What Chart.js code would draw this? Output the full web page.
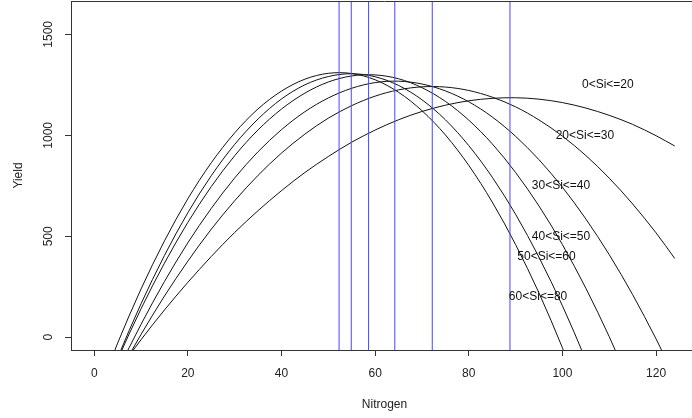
<!DOCTYPE html>
<html><head><meta charset="utf-8">
<script src="https://cdn.jsdelivr.net/npm/chart.js@4/dist/chart.umd.min.js"></script>
<style>html,body{margin:0;padding:0;overflow:hidden;background:#fff}#wrap{width:700px;height:418px;position:relative}</style>
</head><body><div id="wrap"><canvas id="c"></canvas></div>
<script>
const nitrogen = [0,5,10,15,20,25,30,35,40,45,50,55,60,65,70,75,80,85,90,95,100,105,110,115,120,124];
const yieldSi0_20  = [-336,-169,-12,135,272,400,519,627,726,816,895,966,1026,1077,1118,1149,1171,1183,1186,1179,1162,1135,1099,1054,998,947];
const yieldSi20_30 = [-412,-191,14,204,377,535,676,802,912,1006,1085,1147,1194,1225,1240,1239,1222,1189,1141,1076,996,900,788,660,517,390];
const yieldSi30_40 = [-421,-168,64,276,468,638,789,919,1028,1117,1185,1233,1261,1268,1254,1220,1166,1091,995,879,743,586,409,211,-8,-197];
const yieldSi40_50 = [-385,-110,141,367,569,746,899,1027,1130,1209,1264,1294,1299,1280,1236,1168,1075,958,816,650,459,243,3,-261,null,null];
const yieldSi50_60 = [-398,-102,166,405,617,800,955,1081,1180,1250,1291,1305,1290,1247,1176,1077,949,793,609,396,156,-113,-410,null,null,null];
const yieldSi60_80 = [-327,-29,239,477,686,864,1012,1131,1219,1278,1307,1306,1275,1213,1122,1002,851,670,459,219,-52,-352,null,null,null,null];
const optimumN = [52.3,54.9,58.6,64.2,72.2,88.8];
const labelText = ['0<Si<=20','20<Si<=30','30<Si<=40','40<Si<=50','50<Si<=60','60<Si<=80'];
const labelN = [109.7,104.8,99.7,99.7,96.6,94.8];
const labelYield = [1250,1000,750,500,400,200];
const xTickValues = [0,20,40,60,80,100,120];
const yTickValues = [0,500,1000,1500];
const vlineYield = [-200,1800];

const FONT = '"Liberation Sans", Arial, sans-serif';
const seriesList = [yieldSi0_20,yieldSi20_30,yieldSi30_40,yieldSi40_50,yieldSi50_60,yieldSi60_80];

const datasets = [];
optimumN.forEach(n => {
  datasets.push({data: vlineYield.map(v => ({x:n, y:v})), borderColor:'rgb(70,70,255)', borderWidth:1, tension:0, pointRadius:0});
});
seriesList.forEach((vals, k) => {
  const pts = [];
  nitrogen.forEach((n,i) => { if (vals[i] !== null) pts.push({x:n, y:vals[i]}); });
  datasets.push({label: labelText[k], data: pts, borderColor:'#111', borderWidth:1, tension:0.33, pointRadius:0});
});

const extras = {
  id:'extras',
  afterDatasetsDraw(chart){
    const {ctx, chartArea:a, scales:{x,y}} = chart;
    ctx.save();
    ctx.beginPath(); ctx.rect(a.left, a.top, a.right-a.left, a.bottom-a.top); ctx.clip();
    ctx.fillStyle = '#111';
    ctx.font = '12px ' + FONT;
    ctx.textAlign = 'center'; ctx.textBaseline = 'middle';
    labelText.forEach((t,i) => ctx.fillText(t, x.getPixelForValue(labelN[i]), y.getPixelForValue(labelYield[i])));
    ctx.restore();
    ctx.save();
    ctx.strokeStyle = '#333'; ctx.lineWidth = 1;
    ctx.beginPath(); ctx.moveTo(a.left, a.top + 0.5); ctx.lineTo(a.right, a.top + 0.5); ctx.stroke();
    ctx.restore();
  }
};

new Chart(document.getElementById('c'), {
  type:'line',
  data:{datasets},
  plugins:[extras],
  options:{
    responsive:true, maintainAspectRatio:false, devicePixelRatio:1, animation:false,
    layout:{padding:{top:1,right:2,left:0,bottom:0}},
    plugins:{legend:{display:false}, tooltip:{enabled:false}},
    scales:{
      x:{type:'linear', min:-4.96, max:128.96,
        afterBuildTicks: s => { s.ticks = xTickValues.map(v => ({value:v})); },
        afterFit: s => { s.height = 68; s.paddingLeft = 0; s.paddingRight = 0; },
        grid:{drawOnChartArea:false, drawTicks:true, tickLength:6, color:'#333'},
        border:{display:true, color:'#333'},
        ticks:{padding:10, color:'#222', font:{family:FONT, size:12}, maxRotation:0, minRotation:0, autoSkip:false, callback: v => String(v)},
        title:{display:true, text:'Nitrogen', color:'#222', font:{family:FONT, size:12}, padding:{top:0,bottom:6}}
      },
      y:{type:'linear', min:-63, max:1665,
        afterBuildTicks: s => { s.ticks = yTickValues.map(v => ({value:v})); },
        afterFit: s => { s.width = 71; s.paddingTop = 0; s.paddingBottom = 0; },
        grid:{drawOnChartArea:false, drawTicks:true, tickLength:6, color:'#333'},
        border:{display:true, color:'#333'},
        ticks:{padding:3, crossAlign:'center', minRotation:90, maxRotation:90, color:'#222', font:{family:FONT, size:12}, autoSkip:false, callback: v => String(v)},
        title:{display:true, text:'Yield', color:'#222', font:{family:FONT, size:12}, padding:{top:11,bottom:0}}
      }
    }
  }
});
</script></body></html>
